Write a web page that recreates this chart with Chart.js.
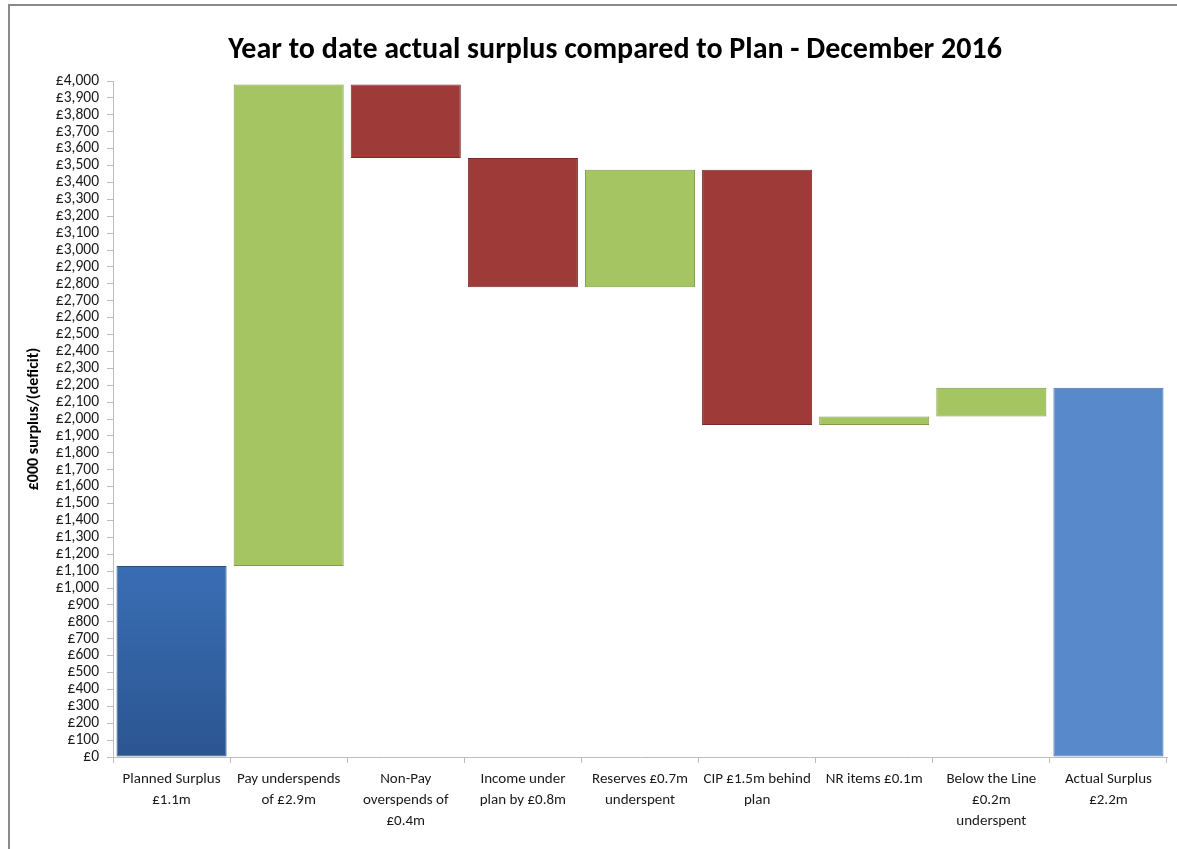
<!DOCTYPE html>
<html>
<head>
<meta charset="utf-8">
<script src="https://cdn.jsdelivr.net/npm/chart.js@4"></script>
<style>
  html, body { margin: 0; padding: 0; background: #fff; }
  #wrap {
    position: absolute; left: 0; top: 0; width: 1177px; height: 849px;
  }
  #frame {
    position: absolute; left: 8px; top: 4px; right: 0; bottom: 0;
    border-top: 2px solid #8a8a8a; border-left: 2px solid #8a8a8a;
  }
  canvas { position: absolute; left: 0; top: 0; }
</style>
</head>
<body>
<div id="wrap">
  <div id="frame"></div>
  <canvas id="waterfall" width="1177" height="849"></canvas>
</div>
<script>
// categories (multi-line labels as in the original)
const categories = [
  ["Planned Surplus", "£1.1m"],
  ["Pay underspends", "of £2.9m"],
  ["Non-Pay", "overspends of", "£0.4m"],
  ["Income under", "plan by £0.8m"],
  ["Reserves £0.7m", "underspent"],
  ["CIP £1.5m behind", "plan"],
  ["NR items £0.1m"],
  ["Below the Line", "£0.2m", "underspent"],
  ["Actual Surplus", "£2.2m"]
];

// bottom and top of each floating bar, £000
const barStart = [0, 1130, 3545, 2780, 2780, 1965, 1965, 2015, 0];
const barEnd   = [1130, 3980, 3980, 3545, 3475, 3475, 2015, 2185, 2185];

// kind of each bar: total / gain / loss
const barKind = ["total", "gain", "loss", "loss", "gain", "loss", "gain", "gain", "total2"];

const kindColour = {
  total: "#3567a9",
  total2: "#5889cb",
  gain: "#a5c563",
  loss: "#9e3b39"
};
const kindBorder = {
  total: "#2a4f80",
  total2: "#4670a8",
  gain: "#7f9c48",
  loss: "#7a2b2a"
};

const chartTitle = "Year to date actual surplus compared to Plan - December 2016";

const fontFamily = "'Carlito', 'Liberation Sans Narrow', 'DejaVu Sans Condensed', 'Open Sans', sans-serif";

// title drawn a little right of the canvas centre, like the original
const titlePlugin = {
    id: 'offsetTitle',
    afterDraw(chart) {
        const c = chart.ctx;
        c.save();
        c.font = 'bold 30px ' + fontFamily;
        c.fillStyle = '#000';
        c.textAlign = 'center';
        c.textBaseline = 'middle';
        c.fillText(chartTitle, 615, 50);
        c.restore();
    }
};

document.addEventListener("DOMContentLoaded", function() {
    const ctx = document.getElementById('waterfall').getContext('2d');

    const floating = barStart.map((s, i) => [s, barEnd[i]]);

    new Chart(ctx, {
        type: 'bar',
        data: {
            labels: categories,
            datasets: [{
                label: "£000 surplus/(deficit)",
                data: floating,
                backgroundColor: function(c) {
                    const kind = barKind[c.dataIndex];
                    if (kind === 'total' && c.chart.chartArea) {
                        const a = c.chart.chartArea;
                        const g = c.chart.ctx.createLinearGradient(0, a.bottom, 0, a.bottom - 200);
                        g.addColorStop(0, '#2b5591');
                        g.addColorStop(1, '#3a6fb6');
                        return g;
                    }
                    return kindColour[kind];
                },
                borderColor: barKind.map(k => kindBorder[k]),
                borderWidth: 1,
                borderSkipped: false,
                barPercentage: 0.94,
                categoryPercentage: 1.0
            }]
        },
        plugins: [titlePlugin],
        options: {
            responsive: false,
            animation: false,
            layout: {
                padding: { left: 24, right: 10, top: 81, bottom: 0 }
            },
            plugins: {
                legend: { display: false },
                tooltip: { enabled: false },
                title: { display: false }
            },
            scales: {
                x: {
                    grid: {
                        offset: true,
                        drawOnChartArea: false,
                        color: '#bdbdbd',
                        tickLength: 6
                    },
                    border: { color: '#bdbdbd' },
                    ticks: {
                        color: '#1a1a1a',
                        font: { family: fontFamily, size: 15, lineHeight: 1.4 },
                        maxRotation: 0,
                        autoSkip: false,
                        padding: 6
                    },
                    afterFit: function(scale) { scale.height = 92; }
                },
                y: {
                    min: 0,
                    max: 4000,
                    grid: {
                        drawOnChartArea: false,
                        color: '#bdbdbd',
                        tickLength: 6
                    },
                    border: { color: '#bdbdbd' },
                    ticks: {
                        stepSize: 100,
                        autoSkip: false,
                        color: '#1a1a1a',
                        padding: 8,
                        font: { family: fontFamily, size: 15.5 },
                        callback: v => '£' + v.toLocaleString('en-GB')
                    },
                    title: {
                        display: true,
                        text: "£000 surplus/(deficit)",
                        color: '#000',
                        font: { family: fontFamily, size: 16, weight: 'bold' },
                        padding: { top: 0, bottom: 4 }
                    },
                    afterFit: function(scale) { scale.width = 89; }
                }
            }
        }
    });
});
</script>
</body>
</html>
